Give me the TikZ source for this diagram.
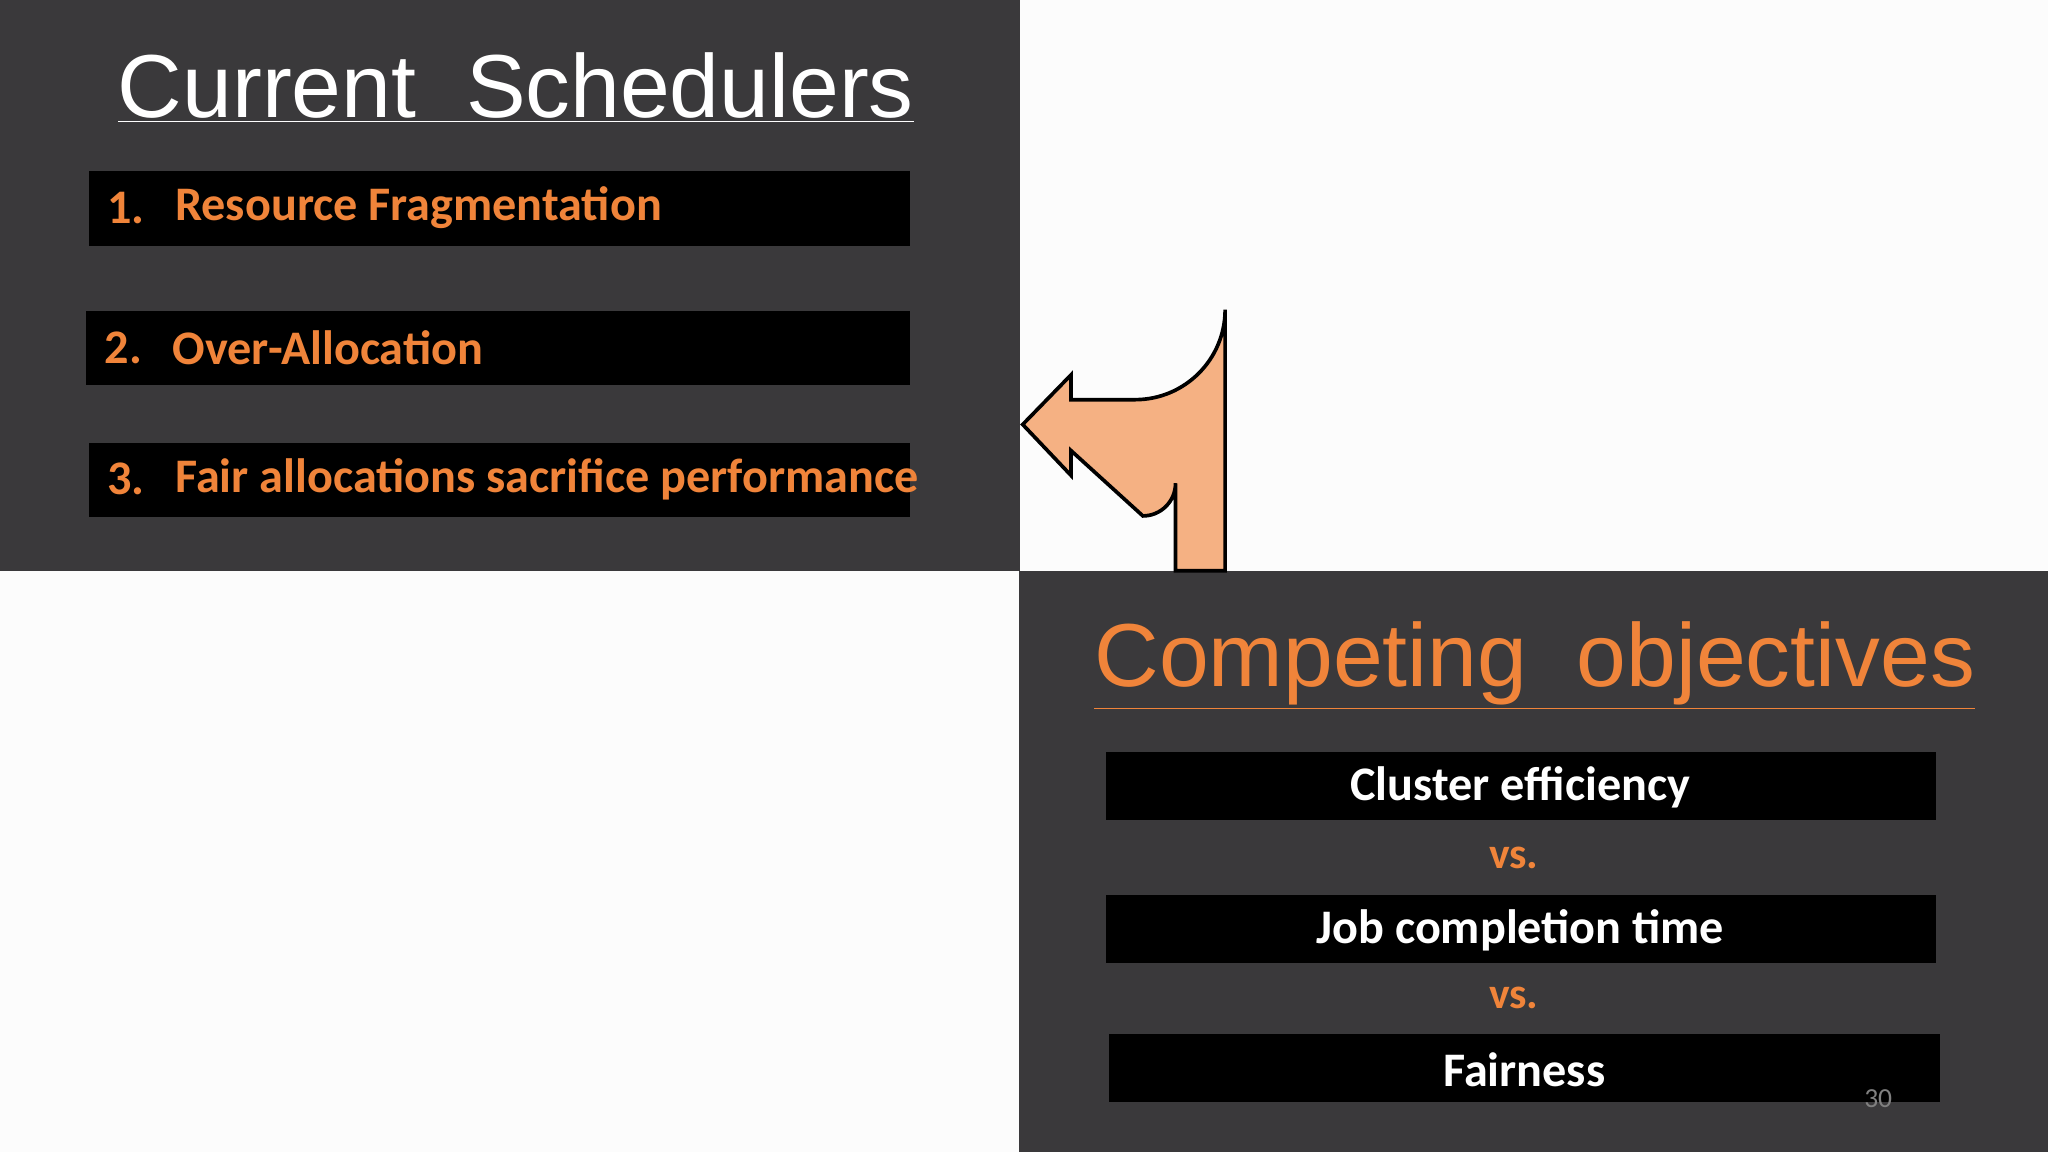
\documentclass[tikz,border=0pt]{standalone}
\usepackage{fontspec}
\setmainfont{Carlito}
\newfontfamily\titlefont{Liberation Sans}
\begin{document}
\begin{tikzpicture}[x=0.02cm,y=-0.02cm]
\definecolor{panel}{HTML}{3A393B}
\definecolor{org}{HTML}{F0843A}
\definecolor{arr}{HTML}{F5B183}
\tikzset{blk/.style={fill=black,draw=none},
 itm/.style={text=org,font=\bfseries\fontsize{21}{24}\selectfont,anchor=west},
 obj/.style={text=white,font=\bfseries\fontsize{21}{24}\selectfont},
 vs/.style={text=org,font=\bfseries\fontsize{19}{22}\selectfont}}
\fill[white!99!black] (0,0) rectangle (1568,882);
\fill[panel] (0,0) rectangle (781,437);
\fill[panel] (780,437) rectangle (1568,882);
\node[text=white,font=\titlefont\fontsize{39}{44}\selectfont] (t1) at (395,67) {\underline{Current\ \ Schedulers}};
\fill[blk] (68,131) rectangle (697,188);
\fill[blk] (66,238) rectangle (697,295);
\fill[blk] (68,339) rectangle (697,396);
\node[itm] (n1) at (76,159) {1.};
\node[itm] (i1) at (128,159) {Resource Fragmentation};
\node[itm] (n2) at (74,266) {2.};
\node[itm] (i2) at (126,266) {Over-Allocation};
\node[itm] (n3) at (76,367) {3.};
\node[itm] (i3) at (128,367) {Fair allocations sacrifice performance};
\draw[fill=arr,line width=1.6pt,line join=miter]
 (900,437) -- (900,370) arc[start angle=0,end angle=90,radius=25] -- (820,345) -- (820,364) -- (783,325) -- (820,287) -- (820,306) -- (869,306) arc[start angle=90,end angle=0,radius=69] -- (938,437) -- cycle;
\node[text=org,font=\titlefont\fontsize{39}{44}\selectfont] (t2) at (1175,510) {\underline{Competing\ \ objectives}};
\fill[blk] (847,576) rectangle (1482,628);
\fill[blk] (847,685) rectangle (1482,737);
\fill[blk] (849,792) rectangle (1485,844);
\node[obj] (o1) at (1164,603) {Cluster efficiency};
\node[vs] (v1) at (1159,657) {vs.};
\node[obj] (o2) at (1164,712) {Job completion time};
\node[vs] (v2) at (1159,764) {vs.};
\node[obj] (o3) at (1167,819) {Fairness};
\node[text=gray,font=\fontsize{12}{14}\selectfont] (pg) at (1438,841) {30};
\end{tikzpicture}
\end{document}
